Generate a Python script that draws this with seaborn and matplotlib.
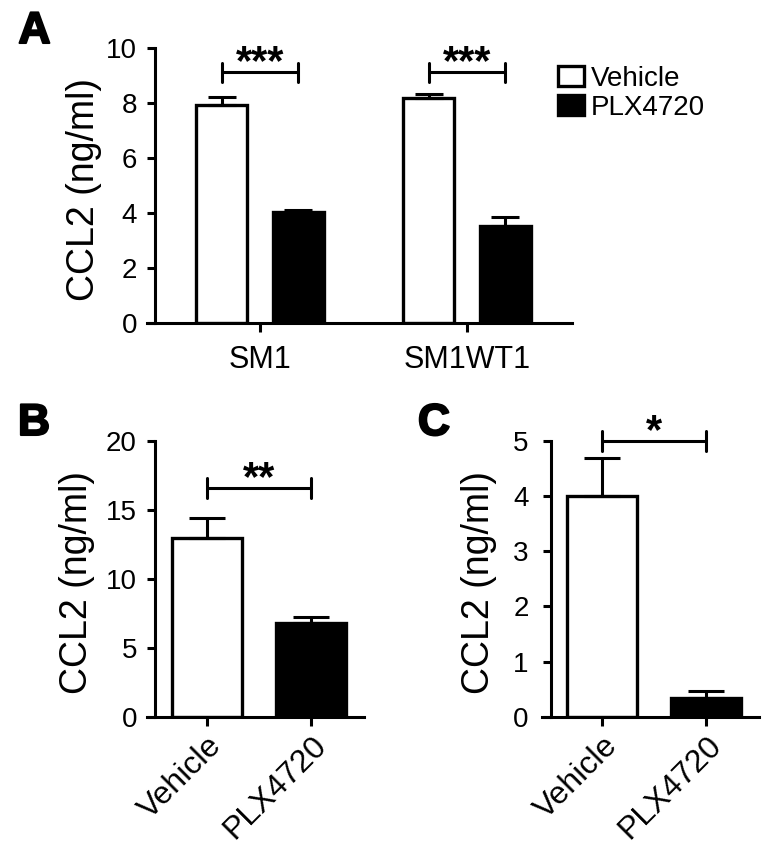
import pandas as pd
import matplotlib.pyplot as plt
import matplotlib.patheffects as pe
from matplotlib.patches import Patch
from matplotlib.container import BarContainer
import seaborn as sns

sns.set_theme(style='ticks', rc={'figure.figsize': (7.81, 8.51),
                                 'axes.edgecolor': 'black', 'xtick.color': 'black',
                                 'ytick.color': 'black', 'text.color': 'black',
                                 'axes.labelcolor': 'black'})
plt.rcParams['font.family'] = ['Liberation Sans', 'DejaVu Sans']

# ---- data ----
cell_lines = ['SM1', 'SM1WT1']
treatments = ['Vehicle', 'PLX4720']
a_vehicle = [7.93, 8.17]
a_vehicle_err = [0.28, 0.14]
a_plx = [4.05, 3.54]
a_plx_err = [0.05, 0.30]
a_stars = ['***', '***']

b_values = [12.97, 6.8]
b_err = [1.43, 0.45]
b_stars = '**'

c_values = [4.0, 0.335]
c_err = [0.68, 0.135]
c_stars = '*'

palette = {'Vehicle': 'white', 'PLX4720': 'black'}
LW = 2.2
W, H = 781, 851


def px_axes(fig, left, right, top, bottom):
    # axes box from pixel edges
    return fig.add_axes([left / W, 1 - bottom / H, (right - left) / W, (bottom - top) / H])


def style_axes(ax, spine_x, ymax, yticks, ypad):
    ax.spines['top'].set_visible(False)
    ax.spines['right'].set_visible(False)
    ax.spines['left'].set_position(('data', spine_x))
    ax.spines['left'].set_bounds(0, ymax)
    for s in ('left', 'bottom'):
        ax.spines[s].set_linewidth(LW)
    ax.set_ylim(0, ymax)
    ax.set_yticks(yticks)
    ax.tick_params(axis='y', length=6, width=LW, labelsize=20, pad=ypad)
    ax.tick_params(axis='x', length=6.5, width=LW, labelsize=22)
    ax.set_xlabel('')


def bars_of(ax):
    return [c for c in ax.containers if isinstance(c, BarContainer)]


def add_errors(ax, err_lists, capsize):
    for container, errs in zip(bars_of(ax), err_lists):
        for bar, e in zip(container, errs):
            x = bar.get_x() + bar.get_width() / 2
            ax.errorbar(x, bar.get_height(), yerr=[[0], [e]], color='black',
                        lw=LW, capsize=capsize, capthick=LW, zorder=1)


def centers(ax):
    return [b.get_x() + b.get_width() / 2 for c in bars_of(ax) for b in c]


def bracket(ax, x1, x2, y, tick, label):
    kw = dict(color='black', lw=LW, clip_on=False, solid_capstyle='round')
    ax.plot([x1, x2], [y, y], **kw)
    ax.plot([x1, x1], [y - tick, y + tick], **kw)
    ax.plot([x2, x2], [y - tick, y + tick], **kw)
    ax.annotate(label, xy=((x1 + x2) / 2, y), xytext=(0, -1.5), textcoords='offset points',
                ha='center', va='baseline', fontsize=30, fontweight='bold',
                annotation_clip=False)


fig = plt.figure(dpi=100)

# ---- Panel A ----
axA = px_axes(fig, 147, 572, 47.7, 323)
df_a = pd.DataFrame({'Cell line': cell_lines * 2,
                     'Treatment': ['Vehicle'] * 2 + ['PLX4720'] * 2,
                     'CCL2': a_vehicle + a_plx})
sns.barplot(data=df_a, x='Cell line', y='CCL2', hue='Treatment', order=cell_lines,
            hue_order=treatments, palette=palette, width=0.74, gap=0.335,
            edgecolor='black', linewidth=2.4, errorbar=None, saturation=1,
            legend=False, ax=axA)
axA.set_xlim(-0.546, 1.507)
style_axes(axA, -0.507, 10, [0, 2, 4, 6, 8, 10], 7)
axA.tick_params(axis='x', pad=9.5)
cA = centers(axA)
add_errors(axA, [a_vehicle_err, a_plx_err], 10)
for i, s in enumerate(a_stars):
    bracket(axA, cA[i], cA[i + len(cell_lines)], 9.1, 0.36, s)
axA.set_ylabel('CCL2 (ng/ml)', fontsize=27, va='center')
axA.yaxis.set_label_coords((84 - 147) / 425, 0.484)
handles = [Patch(facecolor=palette[t], edgecolor='black', linewidth=2.4) for t in treatments]
axA.legend(handles, treatments, loc='upper left', bbox_to_anchor=(558 / W, 1 - 66 / H),
           bbox_transform=fig.transFigure, frameon=False, fontsize=20, borderpad=0,
           borderaxespad=0, handlelength=0.94, handleheight=0.72, handletextpad=0.25,
           labelspacing=0.1)

# ---- Panels B and C ----
panels = [
    (b_values, b_err, b_stars, 147, 364, -0.577, -0.5, 20, [0, 5, 10, 15, 20], 16.6, 0.72, 7, 77),
    (c_values, c_err, c_stars, 541.7, 759.3, -0.583, -0.496, 5, [0, 1, 2, 3, 4, 5], 5.0, 0.18, 10, 479),
]
for vals, errs, stars, left, right, xmin, spine_x, ymax, yt, by, bt, ypad, lab_x in panels:
    ax = px_axes(fig, left, right, 440.7, 716.7)
    df = pd.DataFrame({'Treatment': treatments, 'CCL2': vals})
    sns.barplot(data=df, x='Treatment', y='CCL2', hue='Treatment', order=treatments,
                hue_order=treatments, palette=palette, width=0.67, edgecolor='black',
                linewidth=2.4, errorbar=None, saturation=1, legend=False, ax=ax)
    ax.set_xlim(xmin, 1.51)
    style_axes(ax, spine_x, ymax, yt, ypad)
    ax.tick_params(axis='x', labelsize=23)
    cx = centers(ax)
    add_errors(ax, [[e] for e in errs], 13)
    bracket(ax, cx[0], cx[1], by, bt, stars)
    for lbl in ax.get_xticklabels():
        lbl.set_rotation(45)
        lbl.set_ha('right')
        lbl.set_va('top')
        lbl.set_rotation_mode('anchor')
    ax.set_ylabel('CCL2 (ng/ml)', fontsize=27, va='center')
    ax.yaxis.set_label_coords((lab_x - left) / (right - left), 0.488)

# panel letters
for letter, x, y in [('A', 34.5, 31.5), ('B', 34, 423.5), ('C', 434, 423.5)]:
    fig.text(x / W, 1 - y / H, letter, fontsize=32, fontweight='bold', ha='center',
             va='center', path_effects=[pe.withStroke(linewidth=1.5, foreground='black')])

fig.savefig('out.png', dpi=100)
